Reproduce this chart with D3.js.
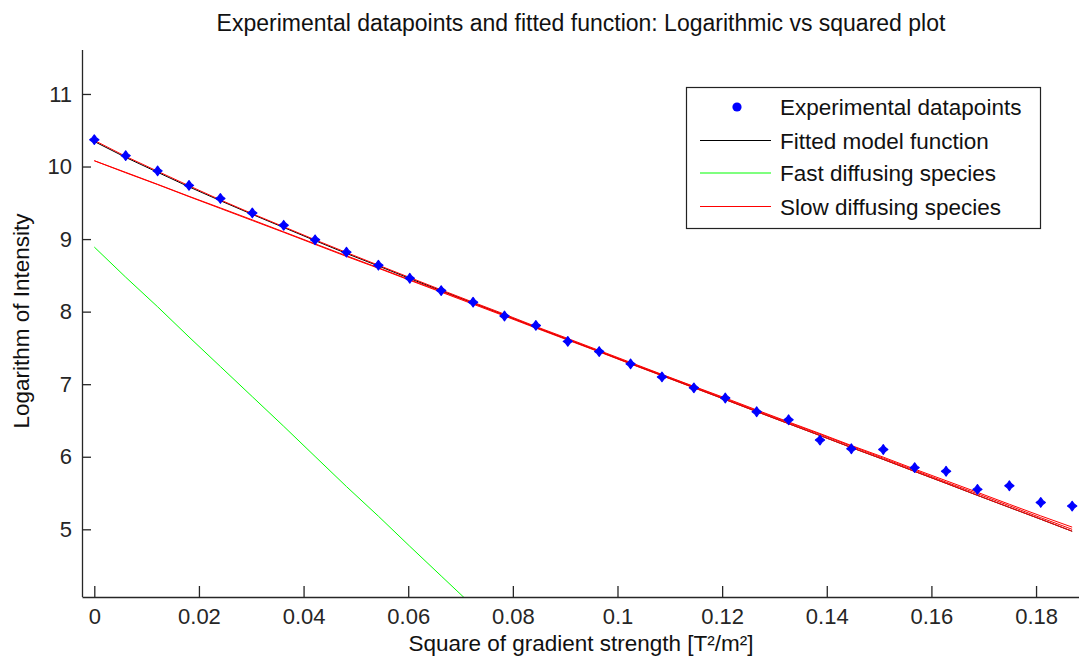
<!DOCTYPE html>
<html lang="en">
  <head>
    <meta charset="utf-8">
    <title>Logarithmic vs squared plot</title>
    <style>
      body { margin: 0; background: #fff; }
      svg { display: block; font-family: "Liberation Sans", Arial, sans-serif; }
    </style>
  </head>
  <body>
    <svg></svg>
    <script src="https://d3js.org/d3.v7.min.js"></script>
    <script type="text/javascript">
      // squared gradient strength [T^2/m^2]
      var gradSq = [0, 0.0060, 0.0121, 0.0181, 0.0241, 0.0302, 0.0362, 0.0422, 0.0482, 0.0543,
                    0.0603, 0.0663, 0.0724, 0.0784, 0.0844, 0.0905, 0.0965, 0.1025, 0.1085, 0.1146,
                    0.1206, 0.1266, 0.1327, 0.1387, 0.1447, 0.1508, 0.1568, 0.1628, 0.1688, 0.1749,
                    0.1809, 0.1869];
      // measured log intensity
      var logI = [10.37, 10.15, 9.94, 9.74, 9.56, 9.36, 9.19, 8.99, 8.82, 8.64,
                  8.46, 8.29, 8.13, 7.94, 7.81, 7.59, 7.45, 7.28, 7.10, 6.95,
                  6.81, 6.62, 6.51, 6.23, 6.11, 6.10, 5.85, 5.80, 5.55, 5.60,
                  5.37, 5.32];
      // fitted model
      var fitted = [10.345, 10.126, 9.921, 9.720, 9.529, 9.340, 9.160, 8.979, 8.802, 8.630,
                    8.457, 8.289, 8.118, 7.952, 7.783, 7.615, 7.451, 7.283, 7.120, 6.953,
                    6.789, 6.623, 6.456, 6.293, 6.127, 5.964, 5.798, 5.634, 5.468, 5.302,
                    5.139, 4.973];
      // fast component (only the first part is inside the axes)
      var fast = [8.89, 8.475, 8.067, 7.651, 7.243, 6.828, 6.420, 6.004, 5.589, 5.181,
                  4.766, 4.357, 3.942];
      // slow component, several fits
      var slowA = [10.36, 10.14, 9.935, 9.735, 9.54, 9.35, 9.17, 8.99, 8.815, 8.64,
                   8.47, 8.30, 8.13, 7.965, 7.795, 7.63, 7.465, 7.30, 7.135, 6.97,
                   6.81, 6.645, 6.48, 6.32, 6.155, 5.995, 5.83, 5.67, 5.51, 5.345,
                   5.185, 5.03];
      var slowB = [10.08, 9.914, 9.751, 9.585, 9.422, 9.256, 9.093, 8.927, 8.761, 8.598,
                   8.432, 8.269, 8.103, 7.940, 7.774, 7.608, 7.445, 7.279, 7.116, 6.950,
                   6.787, 6.621, 6.455, 6.292, 6.126, 5.963, 5.797, 5.634, 5.468, 5.302,
                   5.139, 4.973];
      var slowC = [10.08, 9.92, 9.755, 9.59, 9.43, 9.265, 9.10, 8.935, 8.77, 8.605,
                   8.44, 8.28, 8.115, 7.95, 7.785, 7.62, 7.455, 7.29, 7.13, 6.965,
                   6.80, 6.635, 6.47, 6.31, 6.145, 5.98, 5.815, 5.65, 5.49, 5.325,
                   5.16, 5.00];

      var xTicks = [0, 0.02, 0.04, 0.06, 0.08, 0.1, 0.12, 0.14, 0.16, 0.18];
      var yTicks = [5, 6, 7, 8, 9, 10, 11];
      var legendLabels = ["Experimental datapoints", "Fitted model function",
                          "Fast diffusing species", "Slow diffusing species"];

      var width = 1079, height = 658;
      var plotL = 82, plotR = 1080, plotT = 50, plotB = 597;

      var svg = d3.select("svg")
                  .attr("width", width)
                  .attr("height", height);

      var x = d3.scaleLinear().domain([-0.00235, 0.1884]).range([plotL, plotR]);
      var y = d3.scaleLinear().domain([4.067, 11.606]).range([plotB, plotT]);

      svg.append("clipPath").attr("id", "plotclip")
         .append("rect")
         .attr("x", plotL).attr("y", plotT)
         .attr("width", plotR - plotL).attr("height", plotB - plotT);

      var line = d3.line()
                   .x(function(d, i){ return x(gradSq[i]); })
                   .y(function(d){ return y(d); });

      var plot = svg.append("g").attr("clip-path", "url(#plotclip)");

      function drawLine(vals, colour) {
        plot.append("path")
            .attr("d", line(vals))
            .attr("fill", "none")
            .attr("stroke", colour)
            .attr("stroke-width", 1);
      }
      drawLine(fitted, "#000");
      drawLine(fast, "#00ff00");
      drawLine(slowA, "#ff0000");
      drawLine(slowB, "#ff0000");
      drawLine(slowC, "#ff0000");

      // data markers
      svg.append("g").selectAll("path")
         .data(logI)
         .enter()
         .append("path")
         .attr("transform", function(d, i){ return "translate(" + x(gradSq[i]) + "," + y(d) + ")"; })
         .attr("d", "M0,-4.8L2,-2L4.6,0L2,2L0,4.8L-2,2L-4.6,0L-2,-2Z")
         .attr("fill", "#0000ff")
         .attr("stroke", "#0000ff")
         .attr("stroke-width", 1.2)
         .attr("stroke-linejoin", "round");

      // axes, ticks pointing inwards
      var xAxis = d3.axisBottom(x).tickValues(xTicks).tickFormat(d3.format("~g"))
                    .tickSizeInner(-11).tickSizeOuter(0).tickPadding(11);
      var yAxis = d3.axisLeft(y).tickValues(yTicks).tickFormat(d3.format("d"))
                    .tickSizeInner(-9).tickSizeOuter(0).tickPadding(10);

      var gx = svg.append("g").attr("transform", "translate(0," + plotB + ")").call(xAxis);
      var gy = svg.append("g").attr("transform", "translate(" + plotL + ",0)").call(yAxis);

      [gx, gy].forEach(function(g){
        g.select(".domain").attr("stroke", "#262626").attr("stroke-width", 1.3);
        g.selectAll(".tick line").attr("stroke", "#262626").attr("stroke-width", 1.3);
        g.selectAll(".tick text").attr("fill", "#262626")
         .style("font-size", "22px").style("font-family", "'Liberation Sans', Arial, sans-serif");
      });
      // extend left axis up to the top of the plot box
      gy.select(".domain").attr("d", "M0.5," + plotT + "V" + plotB);

      // title and axis labels
      svg.append("text")
         .attr("x", 581).attr("y", 31)
         .attr("text-anchor", "middle")
         .style("font-size", "23px")
         .attr("fill", "#111")
         .text("Experimental datapoints and fitted function: Logarithmic vs squared plot");

      svg.append("text")
         .attr("x", 581).attr("y", 651)
         .attr("text-anchor", "middle")
         .style("font-size", "22.5px")
         .attr("fill", "#111")
         .text("Square of gradient strength [T\u00b2/m\u00b2]");

      svg.append("text")
         .attr("transform", "translate(29,321) rotate(-90)")
         .attr("text-anchor", "middle")
         .style("font-size", "22.5px")
         .attr("fill", "#111")
         .text("Logarithm of Intensity");

      // legend
      var lg = svg.append("g");
      lg.append("rect")
        .attr("x", 686.5).attr("y", 87.5)
        .attr("width", 354).attr("height", 141)
        .attr("fill", "#fff")
        .attr("stroke", "#222").attr("stroke-width", 1.2);

      var rowY = [107, 140.5, 173, 206.5];
      var rowColour = ["#0000ff", "#000", "#00ff00", "#ff0000"];
      lg.append("circle")
        .attr("cx", 737).attr("cy", rowY[0]).attr("r", 4.6)
        .attr("fill", rowColour[0]);
      lg.selectAll("line.sample")
        .data([1, 2, 3])
        .enter()
        .append("line")
        .attr("class", "sample")
        .attr("x1", 700).attr("x2", 771)
        .attr("y1", function(d){ return rowY[d]; })
        .attr("y2", function(d){ return rowY[d]; })
        .attr("stroke", function(d){ return rowColour[d]; })
        .attr("stroke-width", 1.2);
      lg.selectAll("text")
        .data(legendLabels)
        .enter()
        .append("text")
        .attr("x", 780)
        .attr("y", function(d, i){ return rowY[i] + 8; })
        .style("font-size", "22.5px")
        .attr("fill", "#111")
        .text(function(d){ return d; });
    </script>
  </body>
</html>
